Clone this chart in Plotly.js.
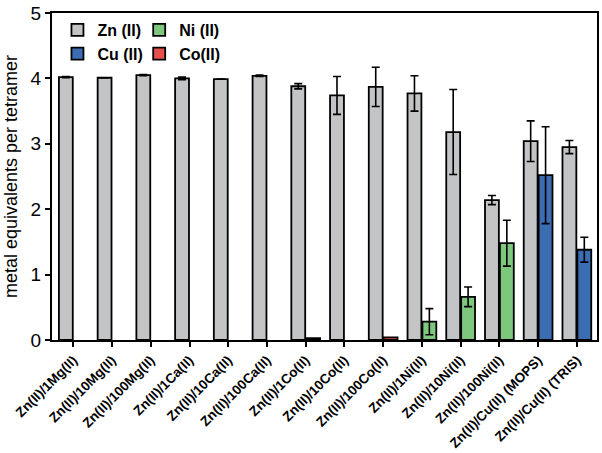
<!DOCTYPE html>
<html>
<head>
<meta charset="utf-8">
<script src="https://cdn.plot.ly/plotly-3.0.1.min.js"></script>
<style>body{margin:0;background:#fff}#chart{width:602px;height:453px}</style>
</head>
<body>
<div id="chart"></div>
<script>
// samples
var categories = ['Zn(II)/1Mg(II)', 'Zn(II)/10Mg(II)', 'Zn(II)/100Mg(II)', 'Zn(II)/1Ca(II)',
  'Zn(II)/10Ca(II)', 'Zn(II)/100Ca(II)', 'Zn(II)/1Co(II)', 'Zn(II)/10Co(II)',
  'Zn(II)/100Co(II)', 'Zn(II)/1Ni(II)', 'Zn(II)/10Ni(II)', 'Zn(II)/100Ni(II)',
  'Zn(II)/Cu(II) (MOPS)', 'Zn(II)/Cu(II) (TRIS)'];

var zn    = [4.02, 4.01, 4.05, 4.00, 3.99, 4.04, 3.88, 3.74, 3.87, 3.77, 3.18, 2.14, 3.04, 2.95];
var znErr = [0.01, 0, 0.01, 0.02, 0, 0.01, 0.04, 0.29, 0.30, 0.27, 0.65, 0.07, 0.31, 0.10];

var ni    = [null, null, null, null, null, null, null, null, null, 0.28, 0.66, 1.48, null, null];
var niErr = [0, 0, 0, 0, 0, 0, 0, 0, 0, 0.20, 0.15, 0.35, 0, 0];

var cu    = [null, null, null, null, null, null, null, null, null, null, null, null, 2.52, 1.38];
var cuErr = [0, 0, 0, 0, 0, 0, 0, 0, 0, 0, 0, 0, 0.74, 0.19];

var co    = [null, null, null, null, null, null, 0.03, null, 0.04, null, null, null, null, null];

function barTrace(name, y, err, color, group, legend) {
  return {
    type: 'bar',
    name: name,
    x: categories,
    y: y,
    offsetgroup: group,
    legend: legend,
    marker: {color: color, line: {color: '#000', width: 1.8}},
    error_y: err ? {type: 'data', array: err, visible: true, color: '#000', thickness: 1.6, width: 4} : {visible: false}
  };
}

var data = [
  barTrace('Zn (II)', zn, znErr, '#c2c4c6', 'a', 'legend'),
  barTrace('Cu (II)', cu, cuErr, '#3b6db3', 'b', 'legend'),
  barTrace('Ni (II)', ni, niErr, '#7ec87e', 'b', 'legend2'),
  barTrace('Co(II)', co, null, '#e8504c', 'b', 'legend2')
];

var legendStyle = {
  orientation: 'v',
  xanchor: 'left', yanchor: 'top',
  y: 1.0,
  bgcolor: 'rgba(0,0,0,0)',
  tracegroupgap: 0,
  traceorder: 'normal',
  font: {family: 'Liberation Sans, Arial', size: 16, weight: 'bold', color: '#000'}
};

var layout = {
  width: 602,
  height: 453,
  margin: {l: 52, r: 5, t: 13, b: 113},
  paper_bgcolor: 'white',
  plot_bgcolor: 'white',
  barmode: 'group',
  bargap: 0.23,
  bargroupgap: 0.07,
  showlegend: true,
  legend: Object.assign({}, legendStyle, {x: 0.01}),
  legend2: Object.assign({}, legendStyle, {x: 0.16}),
  xaxis: {
    type: 'category',
    range: [-0.55, 13.52],
    showline: true, linecolor: '#000', linewidth: 2, mirror: true,
    ticks: 'outside', ticklen: 5, tickwidth: 2, tickcolor: '#000',
    tickangle: -45,
    tickfont: {family: 'Liberation Sans, Arial', size: 13.5, weight: 'bold', color: '#000'},
    showgrid: false, zeroline: false
  },
  yaxis: {
    range: [0, 5],
    dtick: 1,
    showline: true, linecolor: '#000', linewidth: 2, mirror: true,
    ticks: 'outside', ticklen: 5, tickwidth: 2, tickcolor: '#000',
    tickfont: {family: 'Liberation Sans, Arial', size: 19, color: '#000'},
    showgrid: false, zeroline: false,
    title: {text: 'metal equivalents per tetramer', standoff: 8,
      font: {family: 'Liberation Sans, Arial', size: 18, color: '#000'}}
  }
};

Plotly.newPlot('chart', data, layout, {staticPlot: true});
</script>
</body>
</html>
